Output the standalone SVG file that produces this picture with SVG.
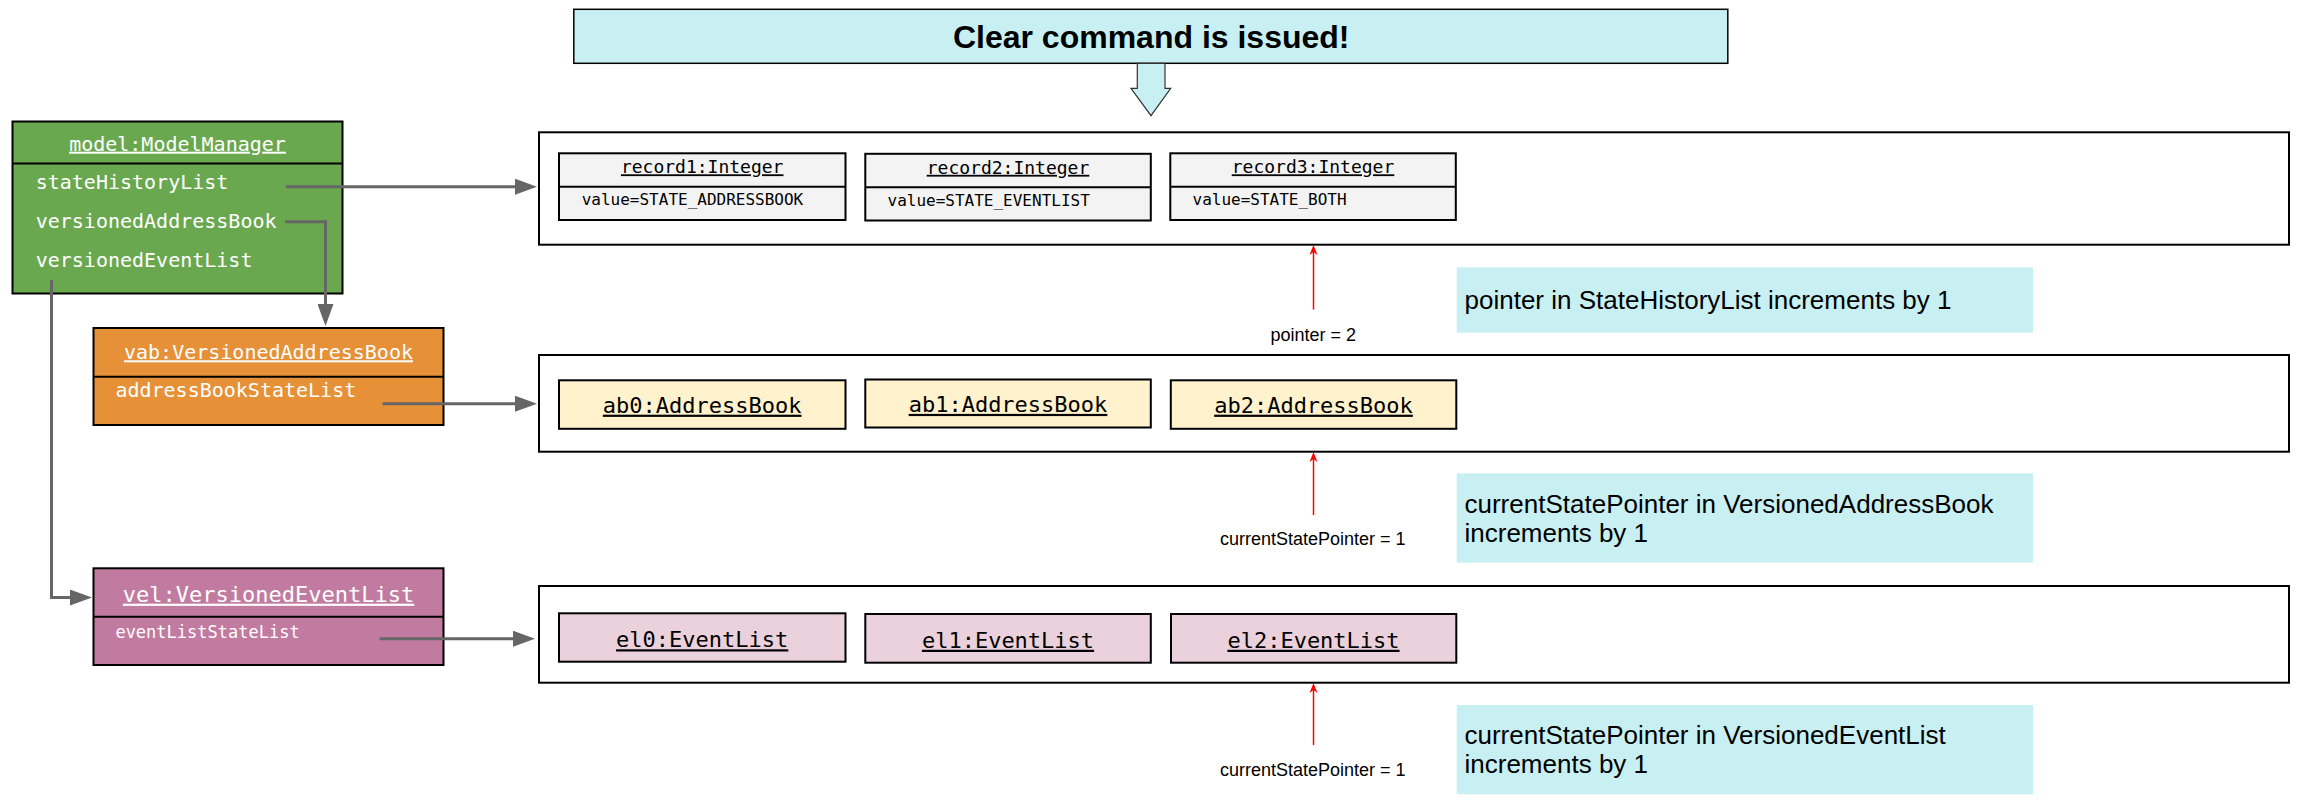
<svg xmlns="http://www.w3.org/2000/svg" width="2299" height="803" viewBox="0 0 2299 803">
<style>
.box{stroke:#000;stroke-width:2}
.mono{font-family:"DejaVu Sans Mono","Liberation Mono",monospace}
.sans{font-family:"Liberation Sans",Arial,sans-serif}
.wt{fill:#fff}
.u{text-decoration:underline}
.conn{fill:none;stroke:#666;stroke-width:3}
.red{fill:none;stroke:#f00;stroke-width:1.5}
.note{fill:#c8f0f2}
.rec{fill:#f3f3f3}
.ab{fill:#fff2cc}
.el{fill:#ead1dc}
.cont{fill:#fff;stroke:#000;stroke-width:2}
</style>
<defs>
<marker id="ah" markerUnits="userSpaceOnUse" markerWidth="22" markerHeight="16" viewBox="0 0 22 16" refX="12" refY="8" orient="auto">
<path d="M0,0 L22,8 L0,16 z" fill="#666"/>
</marker>
<marker id="rh" markerUnits="userSpaceOnUse" markerWidth="10" markerHeight="10" viewBox="0 0 10 10" refX="6" refY="5" orient="auto">
<path d="M0,1 L10,5 L0,9 L3,5 z" fill="#f00"/>
</marker>
</defs>

<g id="title">
<rect x="573.8" y="9.3" width="1154" height="54" class="note" stroke="#000" stroke-width="1.5"/>
<text x="1151.2" y="48.3" text-anchor="middle" class="sans" font-size="32" font-weight="bold">Clear command is issued!</text>
<polygon points="1137.3,63.3 1165,63.3 1165,88.3 1170.7,88.3 1151,115.7 1131,88.3 1137.3,88.3" class="note" stroke="#333" stroke-width="1.2"/>
</g>

<g id="model">
<rect x="12.5" y="121.5" width="330" height="172" fill="#6aa84f" class="box"/>
<line x1="12.5" y1="163.5" x2="342.5" y2="163.5" stroke="#000" stroke-width="2"/>
<text x="177.5" y="150.7" text-anchor="middle" class="mono wt u" font-size="20">model:ModelManager</text>
<text x="35.7" y="189.3" class="mono wt" font-size="20">stateHistoryList</text>
<text x="35.7" y="228.3" class="mono wt" font-size="20">versionedAddressBook</text>
<text x="35.7" y="266.7" class="mono wt" font-size="20">versionedEventList</text>
</g>

<g id="vab">
<rect x="93.5" y="328" width="350" height="97" fill="#e69138" class="box"/>
<line x1="93.5" y1="376.7" x2="443.5" y2="376.7" stroke="#000" stroke-width="2"/>
<text x="268.5" y="359.3" text-anchor="middle" class="mono wt u" font-size="20">vab:VersionedAddressBook</text>
<text x="115.4" y="396.7" class="mono wt" font-size="20">addressBookStateList</text>
</g>

<g id="vel">
<rect x="93.5" y="568.3" width="350" height="96.7" fill="#c27ba0" class="box"/>
<line x1="93.5" y1="616.7" x2="443.5" y2="616.7" stroke="#000" stroke-width="2"/>
<text x="268.5" y="601.7" text-anchor="middle" class="mono wt u" font-size="22">vel:VersionedEventList</text>
<text x="115.4" y="638.3" class="mono wt" font-size="17">eventListStateList</text>
</g>

<g id="stateHistoryContainer">
<rect x="539" y="132.3" width="1750" height="112.4" class="cont"/>
</g>
<g id="record1">
<rect x="559" y="153.3" width="286.5" height="66.7" class="rec box"/>
<line x1="559" y1="186.7" x2="845.5" y2="186.7" stroke="#000" stroke-width="2"/>
<text x="702.2" y="173.3" text-anchor="middle" class="mono u" font-size="18">record1:Integer</text>
<text x="581.7" y="205" class="mono" font-size="16">value=STATE_ADDRESSBOOK</text>
</g>
<g id="record2">
<rect x="865.3" y="153.8" width="285.5" height="66.7" class="rec box"/>
<line x1="865.3" y1="187.2" x2="1150.8" y2="187.2" stroke="#000" stroke-width="2"/>
<text x="1008" y="173.8" text-anchor="middle" class="mono u" font-size="18">record2:Integer</text>
<text x="887.5" y="205.5" class="mono" font-size="16">value=STATE_EVENTLIST</text>
</g>
<g id="record3">
<rect x="1170.3" y="153.3" width="285.5" height="66.7" class="rec box"/>
<line x1="1170.3" y1="186.7" x2="1455.8" y2="186.7" stroke="#000" stroke-width="2"/>
<text x="1313" y="173.3" text-anchor="middle" class="mono u" font-size="18">record3:Integer</text>
<text x="1192.5" y="205" class="mono" font-size="16">value=STATE_BOTH</text>
</g>

<g id="addressBookContainer">
<rect x="539" y="355" width="1750" height="96.7" class="cont"/>
</g>
<g id="ab0">
<rect x="559" y="380.3" width="286.5" height="48.5" class="ab box"/>
<text x="702.2" y="412.7" text-anchor="middle" class="mono u" font-size="22">ab0:AddressBook</text>
</g>
<g id="ab1">
<rect x="865.3" y="379.5" width="285.5" height="48" class="ab box"/>
<text x="1008" y="411.9" text-anchor="middle" class="mono u" font-size="22">ab1:AddressBook</text>
</g>
<g id="ab2">
<rect x="1170.8" y="380.3" width="285.5" height="48.5" class="ab box"/>
<text x="1313.5" y="412.7" text-anchor="middle" class="mono u" font-size="22">ab2:AddressBook</text>
</g>

<g id="eventListContainer">
<rect x="539" y="586" width="1750" height="96.7" class="cont"/>
</g>
<g id="el0">
<rect x="559" y="613.3" width="286.5" height="48.4" class="el box"/>
<text x="702.2" y="647.3" text-anchor="middle" class="mono u" font-size="22">el0:EventList</text>
</g>
<g id="el1">
<rect x="865.3" y="614" width="285.5" height="48.7" class="el box"/>
<text x="1008" y="647.8" text-anchor="middle" class="mono u" font-size="22">el1:EventList</text>
</g>
<g id="el2">
<rect x="1171" y="614" width="285.3" height="48.7" class="el box"/>
<text x="1313.5" y="647.8" text-anchor="middle" class="mono u" font-size="22">el2:EventList</text>
</g>

<g id="note1">
<rect x="1456.7" y="267.3" width="576.3" height="65.4" class="note"/>
<text x="1464.5" y="309" class="sans" font-size="26">pointer in StateHistoryList increments by 1</text>
</g>
<g id="note2">
<rect x="1456.7" y="473.3" width="576.3" height="89.4" class="note"/>
<text x="1464.5" y="512.5" class="sans" font-size="26">currentStatePointer in VersionedAddressBook</text>
<text x="1464.5" y="542" class="sans" font-size="26">increments by 1</text>
</g>
<g id="note3">
<rect x="1456.7" y="705" width="576.3" height="89.3" class="note"/>
<text x="1464.5" y="743.5" class="sans" font-size="26">currentStatePointer in VersionedEventList</text>
<text x="1464.5" y="773" class="sans" font-size="26">increments by 1</text>
</g>

<g id="pointerLabels">
<text x="1313.3" y="341" text-anchor="middle" class="sans" font-size="18">pointer = 2</text>
<text x="1312.8" y="545" text-anchor="middle" class="sans" font-size="18">currentStatePointer = 1</text>
<text x="1312.8" y="776" text-anchor="middle" class="sans" font-size="18">currentStatePointer = 1</text>
</g>

<g id="connectors">
<path class="conn" d="M286,186.7 H527" marker-end="url(#ah)"/>
<path class="conn" d="M285,221.7 H325.5 V316" marker-end="url(#ah)"/>
<path class="conn" d="M51.5,280 V597.5 H82" marker-end="url(#ah)"/>
<path class="conn" d="M382.5,403.7 H527" marker-end="url(#ah)"/>
<path class="conn" d="M379.6,638.7 H525" marker-end="url(#ah)"/>
<path class="red" d="M1313.5,309.5 V249" marker-end="url(#rh)"/>
<path class="red" d="M1313.5,515 V456" marker-end="url(#rh)"/>
<path class="red" d="M1313.5,745 V687" marker-end="url(#rh)"/>
</g>
</svg>
